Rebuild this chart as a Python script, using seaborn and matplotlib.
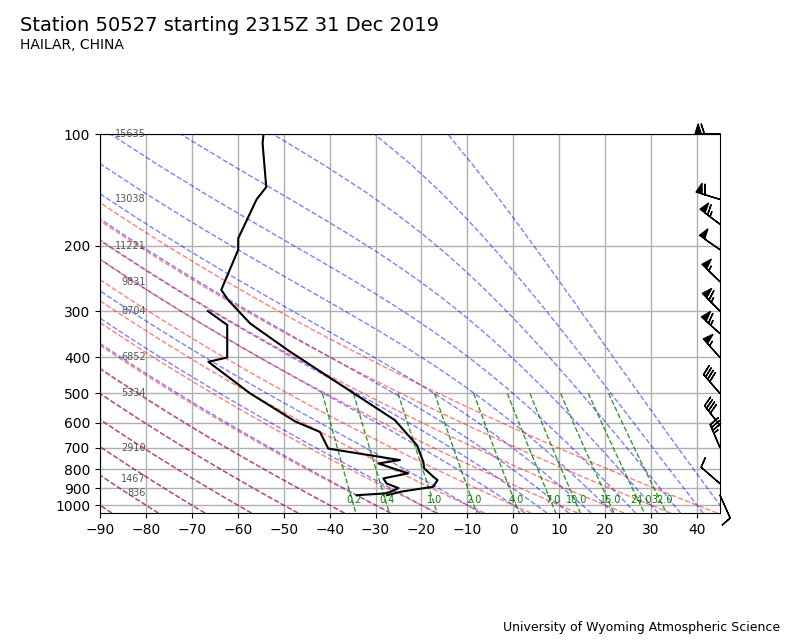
#!/usr/bin/env python3
"""
Sounding plot for Hailar (50527), 2315Z 31 Dec 2019, on a log-pressure diagram.
"""

import matplotlib

matplotlib.use("Agg")

import matplotlib.pyplot as plt
import numpy as np
import pandas as pd
import seaborn as sns
from matplotlib.ticker import FixedLocator, NullLocator, ScalarFormatter

# --- sounding data ---
temp_pres = [940, 930, 920, 900, 893, 856, 839, 796, 764, 689, 590, 460,
             386, 324, 280, 263, 205, 191, 150, 139, 106, 100]
temp_degc = [-27.5, -26.0, -24.5, -19.5, -17.5, -16.5, -17.4, -19.4, -19.6,
             -21.0, -25.8, -39.2, -48.6, -57.3, -62.1, -63.6, -59.9, -59.9,
             -55.9, -53.8, -54.6, -54.4]

dwpt_pres = [940, 930, 921, 900, 874, 847, 821, 772, 756, 704, 635, 595,
             561, 500, 411, 400, 327, 300]
dwpt_degc = [-34.1, -28.0, -26.8, -25.0, -27.6, -28.3, -22.9, -29.4, -24.7,
             -40.3, -42.1, -47.5, -50.8, -57.3, -66.4, -62.3, -62.3, -66.5]

# wind barbs: pressure (hPa), speed (kt), direction (deg)
wind_pres = [940, 875, 700, 610, 500, 400, 345, 300, 250, 205, 175, 150, 100]
wind_spd = [10, 10, 35, 40, 40, 55, 65, 65, 55, 50, 65, 60, 60]
wind_dir = [156, 311, 337, 322, 319, 318, 312, 315, 314, 305, 307, 287, 270]

# geopotential heights of the mandatory levels
hgt_pres = [100, 150, 200, 250, 300, 400, 500, 700, 850, 925]
hgt_m = [15635, 13038, 11221, 9831, 8704, 6852, 5334, 2910, 1467, 836]

# background lines
dry_t0 = list(range(-90, 41, 10))
moist_t0 = list(range(-90, 0, 10)) + list(range(0, 46, 5))
mix_gkg = [0.2, 0.4, 1.0, 2.0, 4.0, 7.0, 10.0, 16.0, 24.0, 32.0]

RD, CP, LV, EPS = 287.04749, 1004.6662, 2.50084e6, 0.622


def sat_vapor(t_k):
    tc = t_k - 273.15
    return 6.112 * np.exp(17.67 * tc / (tc + 243.5))


def dewpoint(e):
    val = np.log(e / 6.112)
    return 243.5 * val / (17.67 - val)


def moist_rate(p, t):
    es = np.minimum(sat_vapor(t), 0.5 * p)
    rs = EPS * es / (p - es)
    return (RD * t + LV * rs) / (p * (CP + LV * LV * rs * EPS / (RD * t * t)))


def moist_line(t0_c, p_grid):
    # integrate from 1000 hPa along each direction of the grid (RK4)
    out = np.empty_like(p_grid)
    for i, pt in enumerate(p_grid):
        n = 200
        ps = np.linspace(1000.0, pt, n + 1)
        t = t0_c + 273.15
        for a, b in zip(ps[:-1], ps[1:]):
            h = b - a
            k1 = moist_rate(a, t)
            k2 = moist_rate(a + h / 2, t + h / 2 * k1)
            k3 = moist_rate(a + h / 2, t + h / 2 * k2)
            k4 = moist_rate(b, t + h * k3)
            t = t + h / 6 * (k1 + 2 * k2 + 2 * k3 + k4)
        out[i] = t - 273.15
    return out


def main() -> None:
    fig = plt.figure(figsize=(8, 6.4), dpi=100)
    ax = fig.add_axes([0.125, 0.1984, 0.775, 0.5922])

    p_moist = np.linspace(1050, 100, 45)
    for t0 in moist_t0:
        ax.plot(moist_line(t0, p_moist), p_moist, color="b", alpha=0.5,
                ls="--", lw=1, zorder=1.5)

    p_all = np.linspace(1050, 100, 60)
    for t0 in dry_t0:
        t = (t0 + 273.15) * (p_all / 1000.0) ** (RD / CP) - 273.15
        ax.plot(t, p_all, color="r", alpha=0.5, ls="--", lw=1, zorder=1.6)

    p_mix = np.linspace(500, 1050, 30)
    for w in mix_gkg:
        wk = w / 1000.0
        ax.plot(dewpoint(p_mix * wk / (EPS + wk)), p_mix, color="g", alpha=0.8,
                ls="--", lw=1, zorder=1.7)
        ax.text(dewpoint(1000 * wk / (EPS + wk)), 1000, f"{w:.1f}", color="g",
                fontsize=7, ha="center", va="bottom")

    temp = pd.DataFrame({"temperature": temp_degc, "pressure": temp_pres})
    dwpt = pd.DataFrame({"temperature": dwpt_degc, "pressure": dwpt_pres})
    for df in (temp, dwpt):
        sns.lineplot(data=df, x="temperature", y="pressure", sort=False,
                     estimator=None, color="k", lw=1.5, ax=ax, zorder=3)

    spd = np.array(wind_spd, dtype=float)
    rad = np.deg2rad(wind_dir)
    u = -spd * np.sin(rad)
    v = -spd * np.cos(rad)
    ax.barbs(np.ones(len(wind_pres)), wind_pres, u, v, length=6, linewidth=1,
             transform=ax.get_yaxis_transform(), clip_on=False, zorder=4)

    for p, h in zip(hgt_pres, hgt_m):
        ax.text(-80, p, str(h), ha="right", va="center", fontsize=7,
                color="#555555")

    ax.set_yscale("log")
    ax.set_ylim(1050, 100)
    ax.set_xlim(-90, 45)
    ax.yaxis.set_major_locator(FixedLocator(range(100, 1001, 100)))
    ax.yaxis.set_major_formatter(ScalarFormatter())
    ax.yaxis.set_minor_locator(NullLocator())
    ax.set_xticks(range(-90, 41, 10))
    ax.grid(True, color="#b0b0b0", lw=1)
    ax.set_axisbelow(True)
    ax.set_xlabel("")
    ax.set_ylabel("")

    fig.text(0.025, 0.96, "Station 50527 starting 2315Z 31 Dec 2019",
             fontsize=14, va="center")
    fig.text(0.025, 0.93, "HAILAR, CHINA", fontsize=10, va="center")
    fig.text(0.975, 0.02, "University of Wyoming Atmospheric Science",
             fontsize=9, ha="right", va="center")

    fig.savefig("out.png", dpi=100)


if __name__ == "__main__":
    main()
